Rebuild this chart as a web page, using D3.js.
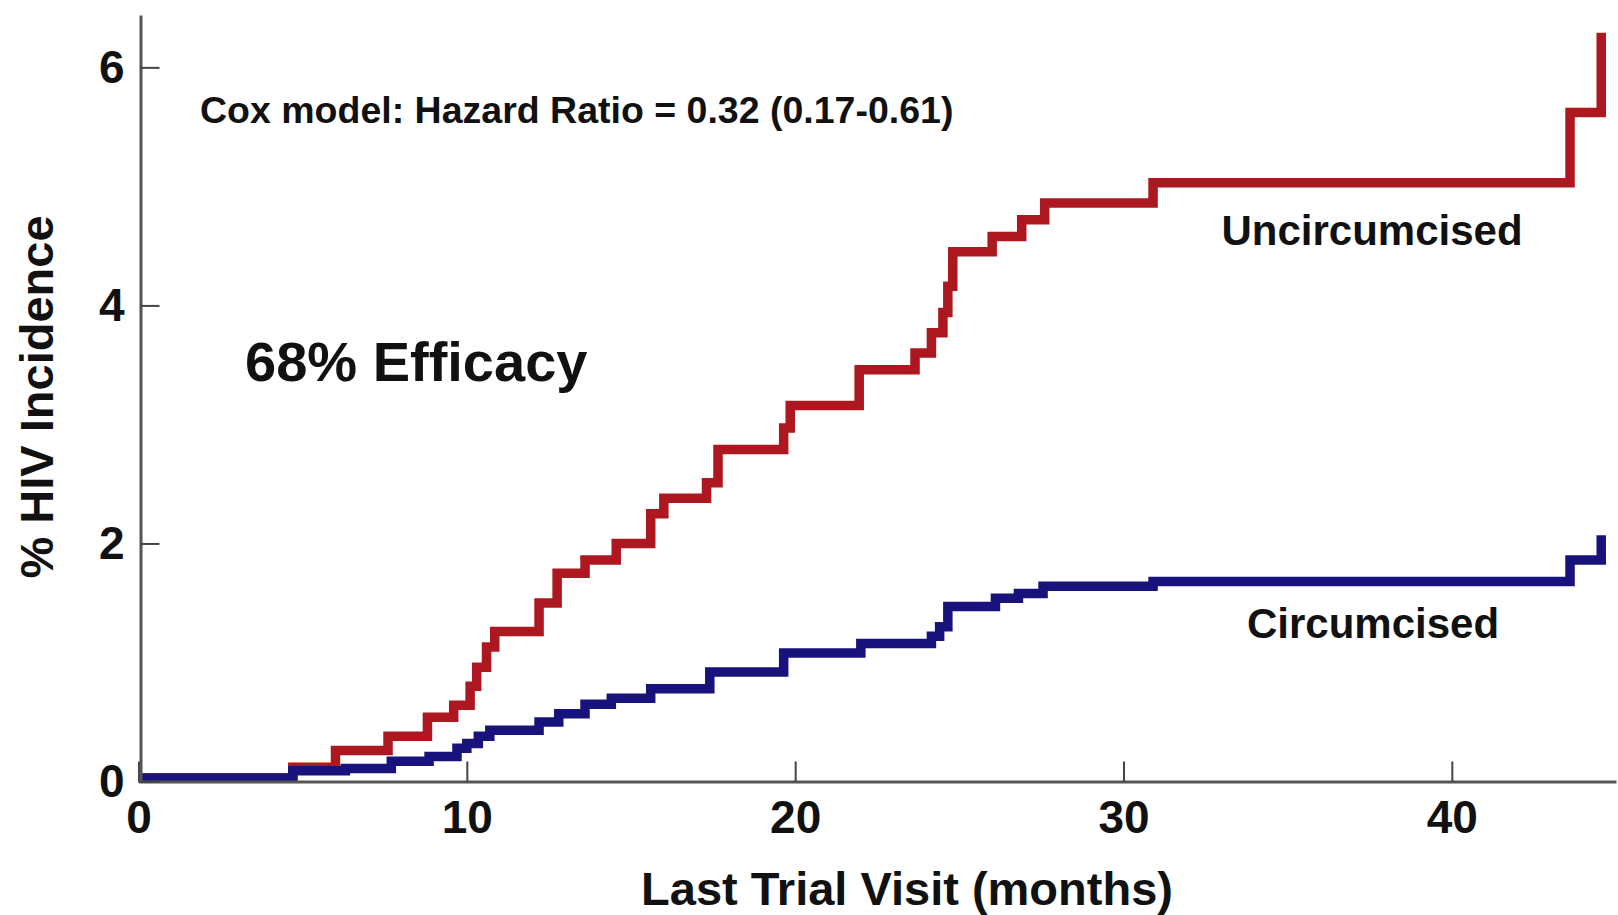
<!DOCTYPE html>
<html>
<head>
<meta charset="utf-8">
<script src="https://cdn.jsdelivr.net/npm/d3@7"></script>
<style>
  html, body { margin: 0; padding: 0; background: #ffffff; }
  svg { display: block; font-family: "Liberation Sans", Arial, Helvetica, sans-serif; }
</style>
</head>
<body>
<svg id="chart"></svg>
<script>
// -----------------------------
// Data
// -----------------------------
const uncircMonths = [0, 4.7, 6.0, 7.6, 8.8, 9.6, 10.1, 10.3, 10.6, 10.85, 12.2, 12.75, 13.6, 14.55, 15.6, 16.0, 17.3, 17.65, 19.65, 19.85, 21.95, 23.65, 24.15, 24.5, 24.65, 24.8, 26.0, 26.9, 27.6, 30.9, 43.6, 44.55];
const uncircPct = [0.03, 0.12, 0.26, 0.38, 0.54, 0.64, 0.8, 0.96, 1.13, 1.26, 1.5, 1.75, 1.86, 2.0, 2.25, 2.38, 2.51, 2.79, 2.97, 3.16, 3.46, 3.6, 3.77, 3.94, 4.16, 4.45, 4.58, 4.72, 4.86, 5.03, 5.62, 6.29];

const circMonths = [0, 4.7, 6.3, 7.7, 8.85, 9.7, 10.0, 10.35, 10.7, 12.2, 12.8, 13.6, 14.4, 15.6, 17.4, 19.65, 22.0, 24.15, 24.4, 24.65, 26.1, 26.8, 27.55, 30.9, 43.6, 44.55];
const circPct = [0.03, 0.09, 0.11, 0.17, 0.21, 0.28, 0.32, 0.38, 0.43, 0.5, 0.57, 0.65, 0.7, 0.78, 0.92, 1.08, 1.16, 1.22, 1.3, 1.47, 1.54, 1.58, 1.64, 1.68, 1.86, 2.07];

const xTicks = [0, 10, 20, 30, 40];
const yTicks = [0, 2, 4, 6];

const xDomain = [0, 45];
const yDomain = [0, 6.44];

const RED = "#ad1820";
const NAVY = "#18137c";

// -----------------------------
// SVG setup
// -----------------------------
const width = 1618;
const height = 915;

const svg = d3.select("#chart").attr("width", width).attr("height", height);

const x = d3.scaleLinear().domain(xDomain).range([138.5, 1616]);
const y = d3.scaleLinear().domain(yDomain).range([781.5, 15]);

// -----------------------------
// Step curves
// -----------------------------
const line = d3
  .line()
  .x((d) => x(d[0]))
  .y((d) => y(d[1]))
  .curve(d3.curveStepAfter);

const series = [
  { name: "Uncircumcised", color: RED, pts: d3.zip(uncircMonths, uncircPct) },
  { name: "Circumcised", color: NAVY, pts: d3.zip(circMonths, circPct) },
];

svg
  .append("g")
  .selectAll("path")
  .data(series)
  .join("path")
  .attr("d", (d) => line(d.pts))
  .attr("fill", "none")
  .attr("stroke", (d) => d.color)
  .attr("stroke-width", 9.5)
  .attr("stroke-linejoin", "miter");

// -----------------------------
// Axes (ticks point inward)
// -----------------------------
const xAxis = d3
  .axisBottom(x)
  .tickValues(xTicks)
  .tickSizeInner(-20)
  .tickSizeOuter(0)
  .tickPadding(19)
  .tickFormat(d3.format("d"));

const yAxis = d3
  .axisLeft(y)
  .tickValues(yTicks)
  .tickSizeInner(-19)
  .tickSizeOuter(0)
  .tickPadding(16)
  .tickFormat(d3.format("d"));

function styleAxis(g) {
  g.select(".domain").attr("stroke", "#555").attr("stroke-width", 3);
  g.selectAll(".tick line").attr("stroke", "#444").attr("stroke-width", 2);
  g.selectAll(".tick text")
    .attr("fill", "#111")
    .style("font-family", "'Liberation Sans', Arial, sans-serif")
    .style("font-size", "46px")
    .style("font-weight", "700");
}

svg
  .append("g")
  .attr("transform", `translate(0,${y(0)})`)
  .call(xAxis)
  .call(styleAxis);

svg
  .append("g")
  .attr("transform", `translate(${x(0) + 2},0)`)
  .call(yAxis)
  .call(styleAxis);

// -----------------------------
// Titles and annotations
// -----------------------------
function label(txt, px, py, size, anchor = "start") {
  return svg
    .append("text")
    .attr("x", px)
    .attr("y", py)
    .attr("text-anchor", anchor)
    .style("font-size", `${size}px`)
    .style("font-weight", "700")
    .style("fill", "#111")
    .text(txt);
}

label("Last Trial Visit (months)", 907, 905, 47, "middle");

svg
  .append("text")
  .attr("transform", "translate(53,397) rotate(-90)")
  .attr("text-anchor", "middle")
  .style("font-size", "47px")
  .style("font-weight", "700")
  .style("fill", "#111")
  .text("% HIV Incidence");

label("Cox model: Hazard Ratio = 0.32 (0.17-0.61)", 200, 123, 37.5);
label("68% Efficacy", 245, 381, 56);
label("Uncircumcised", 1372, 245, 42, "middle");
label("Circumcised", 1373, 638, 42, "middle");
</script>
</body>
</html>
